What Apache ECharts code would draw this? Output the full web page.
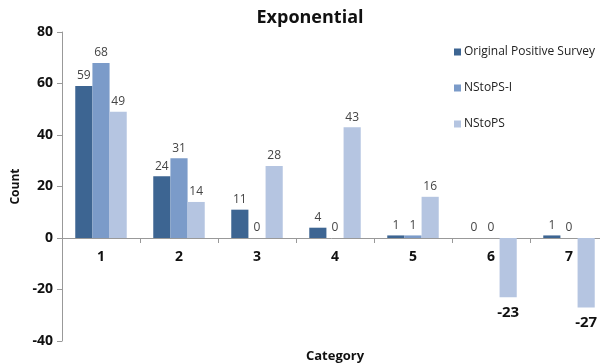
<!DOCTYPE html>
<html><head><meta charset="utf-8">
<script src="https://cdn.jsdelivr.net/npm/echarts@6/dist/echarts.min.js"></script>
<style>html,body{margin:0;padding:0;background:#fff}#c{width:600px;height:363px}</style>
</head><body><div id="c"></div>
<script>
const categories = ['1','2','3','4','5','6','7'];
const originalPositive = [59, 24, 11, 4, 1, 0, 1];
const nstopsI = [68, 31, 0, 0, 1, 0, 0];
const nstops = [49, 14, 28, 43, 16, -23, -27];
const seriesNames = ['Original Positive Survey', 'NStoPS-I', 'NStoPS'];
const colors = ['#3D6592', '#7B9BC9', '#B5C5E1'];

const font = '"Open Sans", Lato, sans-serif';
function mkData(arr){
  return arr.map(v => v < 0
    ? {value: v, label: {position: 'bottom', distance: 8, fontSize: 15, color: '#111', fontWeight: 'bold'}}
    : {value: v});
}
const chart = echarts.init(document.getElementById('c'));
chart.setOption({
  animation: false,
  color: colors,
  title: {text: 'Exponential', left: 305, top: 4, textAlign: 'center',
    textStyle: {fontFamily: font, fontSize: 18, fontWeight: 'bold', color: '#111'}},
  legend: {orient: 'vertical', left: 449, top: 41, itemWidth: 7, itemHeight: 7, itemGap: 24,
    icon: 'rect', textStyle: {fontFamily: font, fontSize: 12, color: '#222', padding: [0,0,0,-2]},
    data: seriesNames},
  grid: {left: 62, right: -8, top: 32, bottom: 22, containLabel: false, outerBoundsMode: 'none'},
  xAxis: {type: 'category', data: categories, offset: -103,
    name: 'Category', nameLocation: 'middle', nameGap: 112,
    nameTextStyle: {fontFamily: font, fontSize: 13, fontWeight: 'bold', color: '#111'},
    axisLine: {onZero: false, lineStyle: {color: '#999'}},
    axisTick: {show: true, length: 5, lineStyle: {color: '#999'}},
    axisLabel: {fontFamily: font, fontSize: 14, fontWeight: 'bold', color: '#111', margin: 12}},
  yAxis: {type: 'value', min: -40, max: 80, interval: 20,
    name: 'Count', nameLocation: 'middle', nameGap: 40,
    nameTextStyle: {fontFamily: font, fontSize: 12, fontWeight: 'bold', color: '#111'},
    axisLine: {show: true, lineStyle: {color: '#999'}},
    axisTick: {show: true, length: 5, inside: false, lineStyle: {color: '#999'}},
    splitLine: {show: false},
    axisLabel: {fontFamily: font, fontSize: 14, fontWeight: 'bold', color: '#111', margin: 9}},
  series: [originalPositive, nstopsI, nstops].map((arr, i) => ({
    name: seriesNames[i], type: 'bar', data: mkData(arr),
    barGap: '0%', barCategoryGap: '34%',
    label: {show: true, position: 'top', distance: 4, fontFamily: font, fontSize: 12, color: '#444'}
  }))
});
</script></body></html>
